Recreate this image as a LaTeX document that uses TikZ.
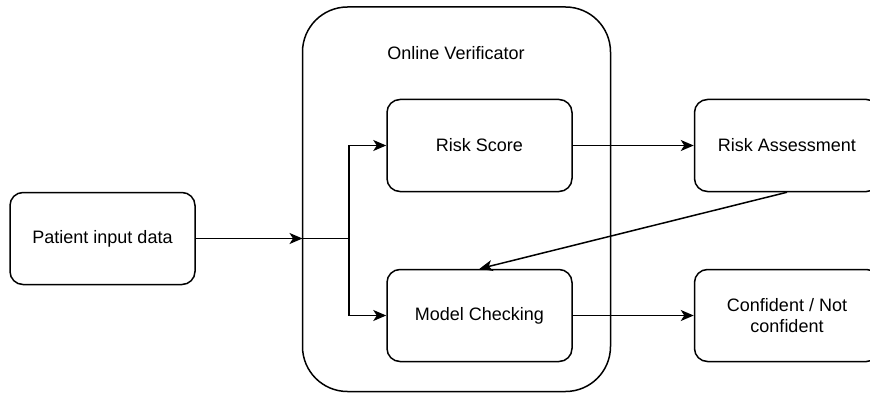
\documentclass[tikz,border=0pt]{standalone}
\usepackage{fontspec}
\setmainfont{Liberation Sans}
\usetikzlibrary{arrows.meta,positioning}
\begin{document}
\begin{tikzpicture}[x=1pt,y=-1pt,
  every node/.style={font=\fontsize{18}{21}\selectfont},
  box/.style={draw,line width=1.5pt,rounded corners=13pt,minimum width=185pt,minimum height=92pt,align=center,inner sep=0pt},
  conn/.style={line width=1.5pt},
  arr/.style={conn,-{Stealth[length=13pt,width=11pt,inset=3.5pt]}}]
\useasboundingbox (0,0) rectangle (870,393);
% container
\draw[line width=1.5pt,rounded corners=45pt] (302.5,7) rectangle (610.5,391.5);
\node[inner sep=0pt] (title) at (456,53) {Online Verificator};
% boxes
\node[box] (patient) at (102.5,238.5) {Patient input data};
\node[box] (rs) at (479.5,145.5) {Risk Score};
\node[box] (mc) at (479.5,315.5) {Model Checking};
\node[box] (ra) at (787,145.5) {Risk Assessment};
\node[box] (conf) at (787,315.5) {Confident / Not\\confident};
\coordinate (entry) at (302.5,238.5);
\coordinate (branch) at (349,238.5);
% connectors
\draw[arr] (patient.east) -- (entry);
\draw[conn] (entry) -- (branch);
\draw[arr] (branch) |- (rs.west);
\draw[arr] (branch) |- (mc.west);
\draw[arr] (rs.east) -- (ra.west);
\draw[arr] (mc.east) -- (conf.west);
\draw[arr] (ra.south) -- (mc.north);
\end{tikzpicture}
\end{document}
